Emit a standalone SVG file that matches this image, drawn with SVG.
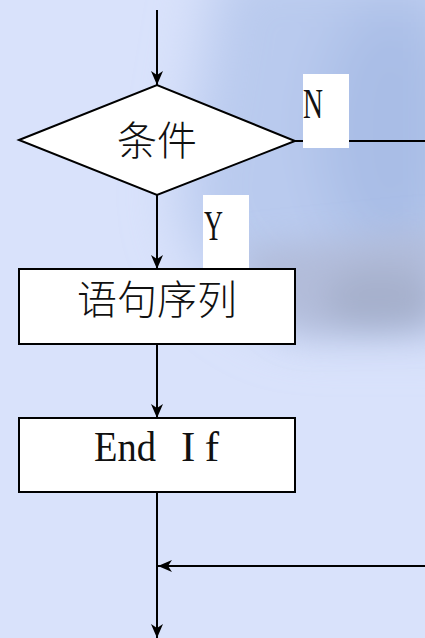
<svg xmlns="http://www.w3.org/2000/svg" width="425" height="638" viewBox="0 0 425 638">
<defs>
<style>
.ln{stroke:#000;stroke-width:2;fill:none}
.box{fill:#fff;stroke:#000;stroke-width:2}
.cjk{font-family:"Liberation Serif","Noto Sans CJK SC",serif;font-size:40px;font-weight:300;fill:#111}
.lat{font-family:"Liberation Serif",serif;fill:#111}
</style>
<marker id="ah" viewBox="0 0 14 12" refX="14" refY="6" markerWidth="14" markerHeight="12" markerUnits="userSpaceOnUse" orient="auto">
<path d="M0,0 L14,6 L0,12 L4,6 Z" fill="#000"/>
</marker>
<filter id="bl" x="-50%" y="-50%" width="200%" height="200%"><feGaussianBlur stdDeviation="28"/></filter>
<filter id="bl2" x="-50%" y="-50%" width="200%" height="200%"><feGaussianBlur stdDeviation="16"/></filter>
</defs>
<g id="background">
<rect width="425" height="638" fill="#d9e2fb"/>
<g filter="url(#bl)">
<path d="M220,-40 L470,-40 L470,330 L300,330 Q200,300 180,200 Q200,80 220,-40 Z" fill="#b9caee"/>
<ellipse cx="390" cy="130" rx="70" ry="130" fill="#a9bde6"/>
</g>
<g filter="url(#bl2)">
<path d="M240,250 L440,230 L440,330 L300,335 Q250,310 240,250 Z" fill="#b0bad6" opacity="0.85"/>
<ellipse cx="380" cy="300" rx="55" ry="32" fill="#a6b0cc"/>
</g>
</g>
<g id="connectors">
<line class="ln" x1="157" y1="10" x2="157" y2="85" marker-end="url(#ah)"/>
<line class="ln" x1="157" y1="195" x2="157" y2="269" marker-end="url(#ah)"/>
<line class="ln" x1="295" y1="141" x2="425" y2="141"/>
<line class="ln" x1="157" y1="344" x2="157" y2="418" marker-end="url(#ah)"/>
<line class="ln" x1="157" y1="492" x2="157" y2="638" marker-end="url(#ah)"/>
<line class="ln" x1="425" y1="566" x2="158" y2="566" marker-end="url(#ah)"/>
</g>
<g id="label-N">
<rect x="303" y="74" width="46" height="74" fill="#fff"/>
<text class="lat" x="303" y="118" font-size="42" textLength="20" lengthAdjust="spacingAndGlyphs">N</text>
</g>
<g id="label-Y">
<rect x="203" y="195" width="46" height="75" fill="#fff"/>
<text class="lat" x="204" y="240" font-size="42" textLength="19" lengthAdjust="spacingAndGlyphs">Y</text>
</g>
<g id="condition">
<polygon class="box" points="19,140 157,85 295,141 157,195"/>
<text class="cjk" x="157" y="155" text-anchor="middle">条件</text>
</g>
<g id="statements">
<rect class="box" x="19" y="269" width="276" height="75"/>
<text class="cjk" x="157" y="314" text-anchor="middle" font-size="41">语句序列</text>
</g>
<g id="endif">
<rect class="box" x="19" y="418" width="276" height="74"/>
<text class="lat" y="461" font-size="43"><tspan x="94" textLength="62" lengthAdjust="spacingAndGlyphs">End</tspan><tspan x="181" textLength="38" lengthAdjust="spacing">If</tspan></text>
</g>
</svg>
